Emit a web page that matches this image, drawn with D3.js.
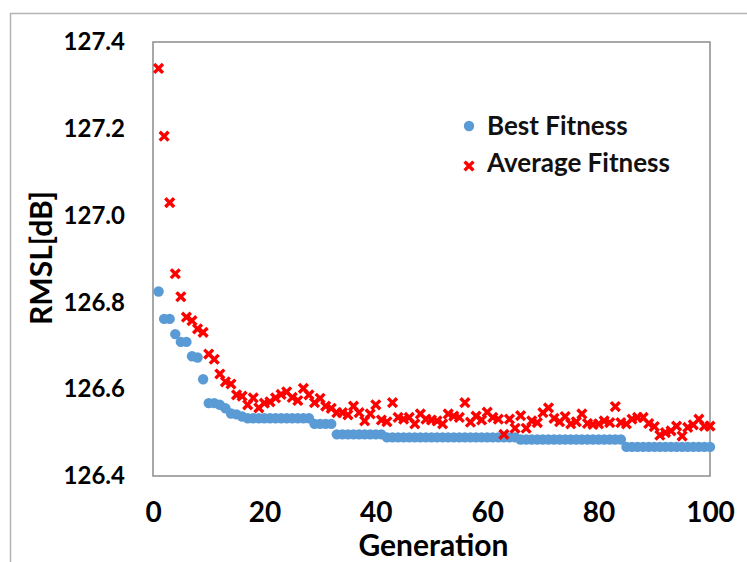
<!DOCTYPE html>
<html>
<head>
<meta charset="utf-8">
<script src="https://cdn.jsdelivr.net/npm/d3@7"></script>
<style>
  html, body { margin: 0; padding: 0; background: #fff; }
  svg { display: block; font-family: Lato, "Open Sans", sans-serif; }
</style>
</head>
<body>
<svg id="chart" width="747" height="562"></svg>
<script>
// Best fitness per generation (1..100)
const bestFitness = [
  126.825, 126.762, 126.762, 126.727, 126.709, 126.709, 126.676, 126.673, 126.623, 126.568,
  126.568, 126.564, 126.556, 126.544, 126.542, 126.537, 126.533, 126.533, 126.533, 126.533,
  126.533, 126.533, 126.533, 126.533, 126.533, 126.533, 126.533, 126.533, 126.520, 126.520,
  126.520, 126.520, 126.496, 126.496, 126.496, 126.496, 126.496, 126.496, 126.496, 126.496,
  126.496, 126.489, 126.489, 126.489, 126.489, 126.489, 126.489, 126.489, 126.489, 126.489,
  126.489, 126.489, 126.489, 126.489, 126.489, 126.489, 126.489, 126.489, 126.489, 126.489,
  126.489, 126.489, 126.489, 126.489, 126.489, 126.484, 126.484, 126.484, 126.484, 126.484,
  126.484, 126.484, 126.484, 126.484, 126.484, 126.484, 126.484, 126.484, 126.484, 126.484,
  126.484, 126.484, 126.484, 126.484, 126.467, 126.467, 126.467, 126.467, 126.467, 126.467,
  126.467, 126.467, 126.467, 126.467, 126.467, 126.467, 126.467, 126.467, 126.467, 126.467
];

// Average fitness per generation (1..100)
const avgFitness = [
  127.339, 127.183, 127.030, 126.866, 126.813, 126.766, 126.758, 126.739, 126.731, 126.681,
  126.669, 126.635, 126.617, 126.612, 126.587, 126.584, 126.564, 126.580, 126.557, 126.568,
  126.571, 126.580, 126.588, 126.594, 126.581, 126.574, 126.602, 126.587, 126.569, 126.579,
  126.561, 126.556, 126.546, 126.546, 126.541, 126.561, 126.546, 126.527, 126.543, 126.564,
  126.529, 126.525, 126.569, 126.535, 126.531, 126.535, 126.520, 126.543, 126.531, 126.529,
  126.527, 126.520, 126.543, 126.538, 126.535, 126.569, 126.524, 126.538, 126.529, 126.547,
  126.535, 126.531, 126.496, 126.531, 126.510, 126.539, 126.510, 126.527, 126.523, 126.546,
  126.557, 126.533, 126.525, 126.537, 126.520, 126.525, 126.543, 126.521, 126.519, 126.520,
  126.527, 126.523, 126.560, 126.523, 126.520, 126.531, 126.535, 126.535, 126.521, 126.514,
  126.494, 126.500, 126.504, 126.515, 126.492, 126.512, 126.518, 126.531, 126.515, 126.515
];

const xTicks = [0, 20, 40, 60, 80, 100];
const yTicks = [126.4, 126.6, 126.8, 127.0, 127.2, 127.4];
const seriesNames = ["Best Fitness", "Average Fitness"];

(function () {
  const svg = d3.select("#chart");
  const vw = 747;
  const vh = 562;
  const margin = { top: 42, right: 37, bottom: 86, left: 153 };
  const width = vw - margin.left - margin.right;
  const height = vh - margin.top - margin.bottom;

  const blue = "#5B9BD5";
  const red = "#FF0000";

  // outer chart border (only top and left visible in the picture)
  svg.append("rect")
    .attr("x", 10.5)
    .attr("y", 13.5)
    .attr("width", 760)
    .attr("height", 580)
    .attr("fill", "none")
    .attr("stroke", "#b4b4b4")
    .attr("stroke-width", 1.5);

  const g = svg.append("g")
    .attr("transform", `translate(${margin.left},${margin.top})`);

  const x = d3.scaleLinear().domain([0, 100]).range([0, width]);
  const y = d3.scaleLinear().domain([126.4, 127.4]).range([height, 0]);

  // axes (labels only, Excel-style)
  const xAxis = g.append("g")
    .attr("transform", `translate(0,${height})`)
    .call(d3.axisBottom(x).tickValues(xTicks).tickSize(0).tickPadding(26));
  xAxis.select(".domain").remove();
  xAxis.selectAll("text")
    .style("font-family", "Lato, sans-serif")
    .style("font-weight", "700")
    .style("font-size", "28px")
    .attr("fill", "#000");

  const yAxis = g.append("g")
    .call(d3.axisLeft(y).tickValues(yTicks).tickSize(0).tickPadding(28)
      .tickFormat(d3.format(".1f")));
  yAxis.select(".domain").remove();
  yAxis.selectAll("text")
    .style("font-family", "Lato, sans-serif")
    .style("font-weight", "700")
    .style("font-size", "24px")
    .attr("fill", "#000");

  // plot frame
  g.append("rect")
    .attr("width", width)
    .attr("height", height)
    .attr("fill", "none")
    .attr("stroke", "#8c8c8c")
    .attr("stroke-width", 1.5);

  // axis titles
  g.append("text")
    .attr("x", width / 2 + 2)
    .attr("y", height + 80)
    .attr("text-anchor", "middle")
    .style("font-weight", "700")
    .style("font-size", "30px")
    .text("Generation");

  svg.append("text")
    .attr("transform", "translate(52,258) rotate(-90)")
    .attr("text-anchor", "middle")
    .style("font-weight", "700")
    .style("font-size", "30px")
    .text("RMSL[dB]");

  const cross = "M-3.2,-3.2L3.2,3.2M-3.2,3.2L3.2,-3.2";

  // Best fitness dots
  g.selectAll("circle.best")
    .data(bestFitness)
    .enter()
    .append("circle")
    .attr("class", "best")
    .attr("cx", (d, i) => x(i + 1))
    .attr("cy", d => y(d))
    .attr("r", 5.2)
    .attr("fill", blue);

  // Average fitness crosses
  g.selectAll("path.avg")
    .data(avgFitness)
    .enter()
    .append("path")
    .attr("class", "avg")
    .attr("transform", (d, i) => `translate(${x(i + 1)},${y(d)})`)
    .attr("d", cross)
    .attr("stroke", red)
    .attr("stroke-width", 3.4)
    .attr("stroke-linecap", "square")
    .attr("fill", "none");

  // Legend
  const legend = svg.append("g").attr("transform", "translate(469,126)");
  legend.append("circle").attr("r", 5.2).attr("fill", blue);
  legend.append("path")
    .attr("transform", "translate(0,40)")
    .attr("d", cross)
    .attr("stroke", red)
    .attr("stroke-width", 3.4)
    .attr("stroke-linecap", "square");

  legend.selectAll("text.leg")
    .data(seriesNames)
    .enter()
    .append("text")
    .attr("class", "leg")
    .attr("x", 18)
    .attr("y", (d, i) => 9 + i * 37)
    .style("font-weight", "700")
    .style("font-size", "26px")
    .attr("fill", "#111")
    .text(d => d);
})();
</script>
</body>
</html>
